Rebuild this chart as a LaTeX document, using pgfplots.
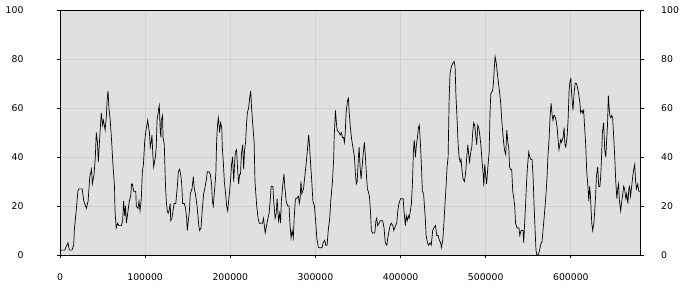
\documentclass[border=0pt]{standalone}
\usepackage{fontspec}
\setmainfont{DejaVu Sans}
\usepackage{pgfplots}
\pgfplotsset{compat=1.18}
\usepackage{pgfplotstable}
\definecolor{bgc}{RGB}{224,224,224}
\definecolor{gridc}{RGB}{208,208,208}
\pgfplotstableread{
x y
0 1
1600 2
5500 2
9400 5
11000 2
14000 2
16000 4
17000 11
19000 18
21000 26
22000 27
26000 27
28000 22
31000 19
33000 22
35000 32
37000 35
38000 29
40000 33
41500 40
42600 50
44000 46
45000 38
46000 44
47000 50
48500 58
50000 53
51000 55
53000 51
54500 57
55500 64
56400 67
57500 60
59000 55
60700 46
62000 38
64000 28
64600 18
66000 11
67700 13
69000 12
72000 12
73600 14
74700 22
76000 16
77000 20
78000 13
79500 17
81400 22
83000 24
84000 29
85000 29
86500 26
89000 26
89600 20
91600 19
92800 22
94000 18
95500 23
96700 34
98000 37
99400 46
100600 50
102000 53
103000 55
105000 50
106000 44
107000 46
108000 49
109000 41
110000 36
112000 40
113000 44
114000 55
116000 60
116600 61
117800 50
118600 48
119000 55
120500 57
121000 48
122500 45
123700 30
124800 22
126000 18
127000 17
128000 18
129500 21
130000 14
131500 15
132700 18
134000 21
136000 21
137800 28
139000 34
140500 35
141700 33
143000 29
144000 21
146000 21
147500 19
148700 15
149500 10
150700 14
152000 18
153000 25
155000 27
156600 32
157700 27
159000 25
161000 20
163000 12
164000 10
165600 11
167000 18
168700 25
170000 27
172000 31
173000 34
175000 34
176500 33
178000 29
179000 22
180000 20
181600 27
183000 33
184000 47
185000 53
186000 56
187500 50
188600 54
190000 52
190600 44
191800 38
193000 30
194500 25
195700 20
197000 18
198000 22
199200 26
200400 31
201500 37
202700 40
204000 30
205000 37
206000 42
207400 43
208600 35
209800 29
211000 33
212000 33
213000 41
214500 45
215700 35
216800 43
218000 46
219000 53
220000 58
221500 60
222700 64
224000 67
225000 60
226000 55
228000 46
229000 30
231000 20
232700 15
234000 13
237800 13
239000 15
241000 9
243600 14
245600 17
247000 23
248000 28
250000 28
251000 22
252600 15
254000 17
255000 23
256600 14
258000 17
259000 13
260000 22
262000 30
263000 33
264000 28
265600 22
267500 20
269000 20
270000 13
271400 7
272600 10
274000 7
275000 15
276500 23
278000 23
280000 24
281000 21
282000 23
283000 30
284000 25
286000 27
287500 32
289000 37
290600 43
292000 49
293000 45
294000 39
295700 30
297000 22
298800 20
300000 15
301600 7
303500 3
305500 3
307800 3
309000 5
311000 6
312000 4
313700 4
315000 10
316800 15
318000 22
320000 30
321500 40
322000 48
323500 59
324600 54
325400 51
327800 50
329000 49
330500 50
331700 48
333000 48
334000 46
335000 50
336000 58
337600 63
338700 64
339500 59
341000 52
342600 47
344000 44
345800 40
347000 33
348000 29
349000 30
350500 40
351300 44
352400 36
353600 31
354800 36
356000 41
357500 46
358700 40
360000 32
361000 27
362000 26
363400 24
364600 18
365700 10
367000 9
369700 9
371000 14
372000 15
373000 12
374700 13
376000 14
379000 14
380600 11
382000 5
383800 4
385000 7
386500 10
387700 12
389000 13
391000 12
392000 10
394000 12
395500 13
396700 18
398000 21
400000 23
403000 23
404000 18
405600 12
406600 16
407800 14
409000 16
410000 15
411500 18
412700 21
414000 30
415000 42
416000 47
417400 40
418600 45
419800 48
421000 52
422000 53
423500 44
424500 36
425600 26
427000 25
428000 20
429000 15
430000 8
431500 5
433000 4
434600 5
436000 4
437700 10
439000 11
441000 12
442500 8
444000 8
445600 6
447000 5
448000 3
449500 6
450700 12
452000 20
453400 28
454600 36
455800 40
457000 63
458000 74
459700 77
461000 78
462800 79
464000 77
465000 65
466000 58
467600 45
468700 40
470000 38
471000 39
472300 34
473400 31
475000 30
476500 34
477700 40
479000 45
480000 41
481000 38
482400 42
483600 44
484700 50
485900 54
487000 53
488200 49
489400 45
490600 53
491800 52
493000 49
494500 44
495700 38
497000 33
497700 28
498800 37
500000 32
501000 29
502300 35
504000 42
505000 58
506000 66
508000 67
509000 70
510000 76
511000 81
512500 78
513700 74
515000 70
516400 66
517600 62
518800 55
520000 50
521000 46
522000 43
523500 41
524700 51
526000 46
527000 44
528000 36
529000 35
530500 35
531700 26
533000 23
534000 20
535000 13
536800 11
539000 11
540000 8
541500 10
542700 10
543800 10
544600 5
545800 14
547000 22
548000 30
549000 36
550500 42
551700 40
553000 39
554400 39
555600 32
556800 20
558000 10
559000 2
560000 0
561400 0
562600 1
563800 3
565000 5
566000 5
567000 9
568500 15
569700 20
570800 25
572000 32
573000 40
574500 48
575500 56
576700 62
578000 57
579000 55
580000 57
581000 57
582600 55
583800 52
585000 47
586000 43
587000 45
588000 47
589000 46
590800 48
592000 52
593000 45
594000 44
595500 48
596700 55
598000 68
599000 71
600000 72
601000 65
602500 59
603700 66
605000 70
606500 70
608000 68
609000 66
610600 62
611500 58
613000 59
614000 58
615000 59
616000 53
617400 45
618600 34
620000 28
621000 22
622000 28
623000 24
624500 13
625600 10
627000 13
628000 18
629000 24
630000 32
631500 36
632700 28
634000 28
635000 32
636000 40
637000 50
638500 54
639700 43
641000 40
642000 47
643000 53
644000 65
645600 57
647000 56
648000 57
649000 56
650000 50
651500 40
652700 30
654000 23
655000 27
656000 29
657000 22
658500 18
659700 22
661000 25
662000 28
663000 27
664600 23
665600 25
667000 21
668000 27
669000 28
670000 24
671400 28
672600 32
673800 35
675000 37
676000 30
677000 27
678500 29
679700 26
682000 26
}\datatable
\begin{document}
\begin{tikzpicture}
\path[use as bounding box] (-60pt,-45pt) rectangle (640pt,255pt);
\pgfplotsset{
  common/.style={
    at={(0,0)}, anchor=south west,
    scale only axis, width=580.7pt, height=245pt,
    xmin=0, xmax=682000, ymin=0, ymax=100,
    ytick={0,20,40,60,80,100},
    yticklabels={0,20,40,60,80,100},
    scaled ticks=false,
    tick align=outside, major tick length=3pt,
    tick style={black, line width=0.8pt},
    axis line style={black, line width=0.8pt},
    tick label style={font=\fontsize{9.3}{11}\selectfont},
  }
}
\begin{axis}[common,
  xtick={0,100000,200000,300000,400000,500000,600000},
  xticklabels={0,100000,200000,300000,400000,500000,600000},
  axis background/.style={fill=bgc},
  grid=major, major grid style={gridc, line width=0.8pt},
  xtick pos=bottom, ytick pos=left,
  yticklabel shift=30pt,
  xticklabel shift=12pt,
]
\addplot[black, line width=0.7pt] table[x=x,y=y] {\datatable};
\end{axis}
\begin{axis}[common,
  axis x line=none, axis y line*=right,
  xtick=\empty,
  yticklabel shift=14pt,
]
\addplot[draw=none] coordinates {(0,0)};
\end{axis}
\end{tikzpicture}
\end{document}
